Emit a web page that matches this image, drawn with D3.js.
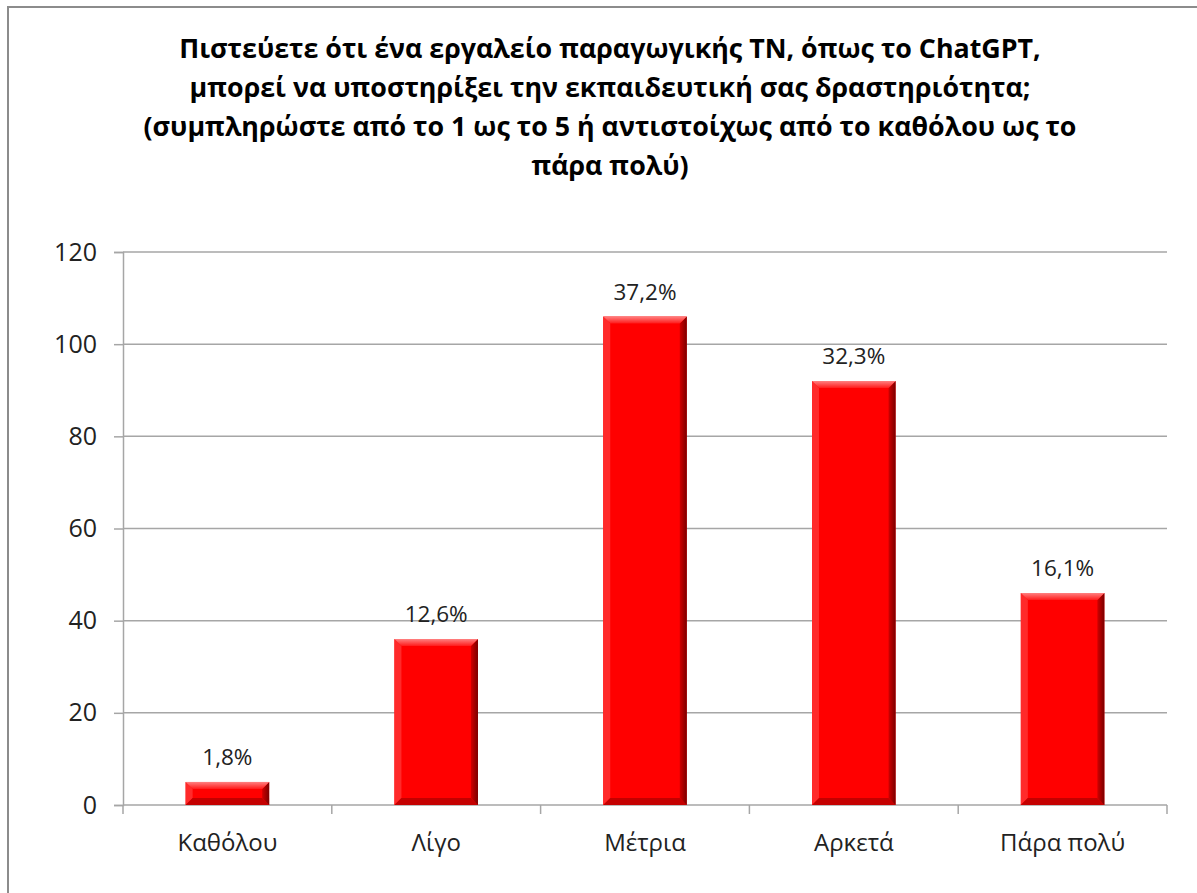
<!DOCTYPE html>
<html>
<head>
<meta charset="utf-8">
<script src="https://cdn.jsdelivr.net/npm/d3@7"></script>
<style>
  body { margin: 0; background: #fff; }
  svg { display: block; font-family: "Open Sans", "Noto Sans", sans-serif; }
</style>
</head>
<body>
<svg id="chart"></svg>
<script>
const width = 1197;
const height = 893;

// data
const categories = ["Καθόλου", "Λίγο", "Μέτρια", "Αρκετά", "Πάρα πολύ"];
const counts = [5, 36, 106, 92, 46];
const percentLabels = ["1,8%", "12,6%", "37,2%", "32,3%", "16,1%"];
const yTicks = [0, 20, 40, 60, 80, 100, 120];
const titleLines = [
    "Πιστεύετε ότι ένα εργαλείο παραγωγικής ΤΝ, όπως το ChatGPT,",
    "μπορεί να υποστηρίξει την εκπαιδευτική σας δραστηριότητα;",
    "(συμπληρώστε από το 1 ως το 5 ή αντιστοίχως από το καθόλου ως το",
    "πάρα πολύ)"
];

const margin = { left: 123, right: 1167, top: 252, bottom: 805 };

const svg = d3.select("#chart")
    .attr("width", width)
    .attr("height", height);

// outer chart border
svg.append("rect")
    .attr("x", 8)
    .attr("y", 7)
    .attr("width", width + 20)
    .attr("height", height + 20)
    .attr("fill", "#fff")
    .attr("stroke", "#8c8c8c")
    .attr("stroke-width", 2);

// title
svg.append("g")
    .selectAll("text")
    .data(titleLines)
    .join("text")
    .attr("x", 610)
    .attr("y", (d, i) => 58 + i * 39)
    .attr("text-anchor", "middle")
    .attr("font-size", 26.8)
    .attr("font-weight", "bold")
    .attr("fill", "#000")
    .text(d => d);

const x = d3.scaleBand()
    .domain(categories)
    .range([margin.left, margin.right])
    .paddingInner(0.6)
    .paddingOuter(0.3);

const y = d3.scaleLinear()
    .domain([0, 120])
    .range([margin.bottom, margin.top]);

// gridlines
svg.append("g")
    .selectAll("line")
    .data(yTicks.slice(1))
    .join("line")
    .attr("x1", margin.left)
    .attr("x2", margin.right)
    .attr("y1", d => y(d))
    .attr("y2", d => y(d))
    .attr("stroke", "#a6a6a6")
    .attr("stroke-width", 1.5);

// y axis
const yAxis = svg.append("g")
    .attr("transform", `translate(${margin.left},0)`)
    .call(d3.axisLeft(y).tickValues(yTicks).tickSize(9).tickPadding(17));
yAxis.select(".domain").attr("stroke", "#a6a6a6").attr("stroke-width", 1.5);
yAxis.selectAll(".tick line").attr("stroke", "#a6a6a6").attr("stroke-width", 1.5);
yAxis.selectAll(".tick text")
    .attr("font-size", 25)
    .attr("fill", "#222")
    .attr("font-family", "'Open Sans', sans-serif");

// x axis: ticks between categories like Excel
const step = x.step();
const boundaries = d3.range(categories.length + 1).map(i => margin.left + i * step);
svg.append("line")
    .attr("x1", margin.left)
    .attr("x2", margin.right)
    .attr("y1", margin.bottom)
    .attr("y2", margin.bottom)
    .attr("stroke", "#a6a6a6")
    .attr("stroke-width", 1.5);
svg.append("g")
    .selectAll("line")
    .data(boundaries)
    .join("line")
    .attr("x1", d => d)
    .attr("x2", d => d)
    .attr("y1", margin.bottom)
    .attr("y2", margin.bottom + 9)
    .attr("stroke", "#a6a6a6")
    .attr("stroke-width", 1.5);
svg.append("g")
    .selectAll("text")
    .data(categories)
    .join("text")
    .attr("x", d => x(d) + x.bandwidth() / 2)
    .attr("y", 851)
    .attr("text-anchor", "middle")
    .attr("font-size", 24)
    .attr("fill", "#222")
    .text(d => d);

// bevel gradients
const defs = svg.append("defs");
const topGrad = defs.append("linearGradient")
    .attr("id", "bevelTop").attr("x1", 0).attr("y1", 0).attr("x2", 0).attr("y2", 1);
topGrad.append("stop").attr("offset", "0%").attr("stop-color", "#ff8080");
topGrad.append("stop").attr("offset", "100%").attr("stop-color", "#ff1a1a");
const rightGrad = defs.append("linearGradient")
    .attr("id", "bevelRight").attr("x1", 0).attr("y1", 0).attr("x2", 1).attr("y2", 0);
rightGrad.append("stop").attr("offset", "0%").attr("stop-color", "#d00000");
rightGrad.append("stop").attr("offset", "100%").attr("stop-color", "#7a0000");

const bars = categories.map((c, i) => ({ cat: c, value: counts[i], label: percentLabels[i] }));
const bw = x.bandwidth();
const bev = 7;

const barG = svg.append("g")
    .selectAll("g")
    .data(bars)
    .join("g")
    .attr("transform", d => `translate(${x(d.cat)},${y(d.value)})`);

barG.append("rect")
    .attr("width", bw)
    .attr("height", d => y(0) - y(d.value))
    .attr("fill", "#ff0000");

// left bevel
barG.append("path")
    .attr("d", d => {
        const h = y(0) - y(d.value);
        const b = Math.min(bev, h / 2);
        return `M0,0 L${b},${b} L${b},${h - b} L0,${h} Z`;
    })
    .attr("fill", "#ff2a2a");

// bottom bevel
barG.append("path")
    .attr("d", d => {
        const h = y(0) - y(d.value);
        const b = Math.min(bev, h / 2);
        return `M0,${h} L${b},${h - b} L${bw - b},${h - b} L${bw},${h} Z`;
    })
    .attr("fill", "#c40000");

// right bevel
barG.append("path")
    .attr("d", d => {
        const h = y(0) - y(d.value);
        const b = Math.min(bev, h / 2);
        return `M${bw},0 L${bw - b},${b} L${bw - b},${h - b} L${bw},${h} Z`;
    })
    .attr("fill", "url(#bevelRight)");

// top bevel
barG.append("path")
    .attr("d", d => {
        const h = y(0) - y(d.value);
        const b = Math.min(bev, h / 2);
        return `M0,0 L${bw},0 L${bw - b},${b} L${b},${b} Z`;
    })
    .attr("fill", "url(#bevelTop)");

// value labels
svg.append("g")
    .selectAll("text")
    .data(bars)
    .join("text")
    .attr("x", d => x(d.cat) + bw / 2)
    .attr("y", d => y(d.value) - 17)
    .attr("text-anchor", "middle")
    .attr("font-size", 22.5)
    .attr("fill", "#222")
    .text(d => d.label);
</script>
</body>
</html>
